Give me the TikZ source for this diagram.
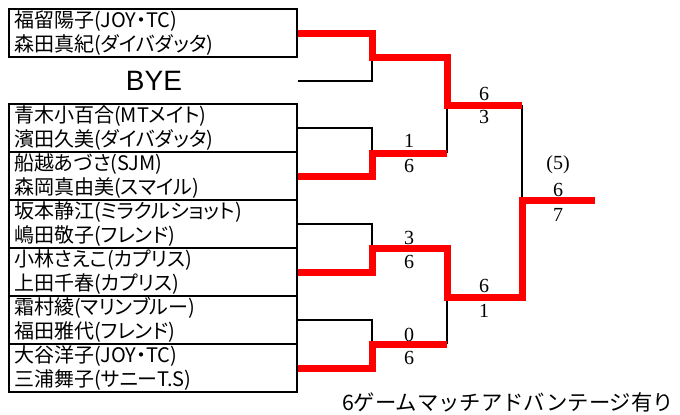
\documentclass[tikz,border=0pt]{standalone}
\usepackage{fontspec}
\setmainfont{Liberation Serif}
\newfontfamily\jp[RawFeature=+palt]{Noto Sans CJK JP}
\newfontfamily\jpcap{Noto Sans CJK JP}
\newfontfamily\sansf{Liberation Sans}
\begin{document}
\begin{tikzpicture}[x=0.75pt,y=-0.75pt,
  entry/.style={draw, line width=1.5pt, minimum height=36pt, text width=208.5pt,
    inner xsep=3.75pt, inner ysep=0pt, align=left,
    font=\jp\fontsize{15pt}{17.5pt}\selectfont},
  blk/.style={draw=black, line width=1.5pt},
  win/.style={draw=red, line width=5.25pt, line join=miter},
  score/.style={inner sep=0pt, font=\fontsize{15pt}{15pt}\selectfont}]
\useasboundingbox (0,0) rectangle (680,414);
% entries
\node[entry] (b1) at (153,33) {福留陽子(JOY・TC)\\森田真紀(ダイバダッタ)};
\node[font=\sansf\fontsize{21pt}{21pt}\selectfont, inner sep=0pt] (bye) at (154,81) {BYE};
\node[entry] (b2) at (153,128) {青木小百合(MTメイト)\\濱田久美(ダイバダッタ)};
\node[entry] (b3) at (153,176) {船越あづさ(SJM)\\森岡真由美(スマイル)};
\node[entry] (b4) at (153,224) {坂本静江(ミラクルショット)\\嶋田敬子(フレンド)};
\node[entry] (b5) at (153,272) {小林さえこ(カプリス)\\上田千春(カプリス)};
\node[entry] (b6) at (153,320) {霜村綾(マリンブルー)\\福田雅代(フレンド)};
\node[entry] (b7) at (153,368) {大谷洋子(JOY・TC)\\三浦舞子(サニーT.S)};
% junctions
\coordinate (r1a) at (372,57);
\coordinate (r1b) at (372,153);
\coordinate (r1c) at (372,248);
\coordinate (r1d) at (372,344);
\coordinate (r2a) at (447,105);
\coordinate (r2b) at (447,297);
\coordinate (r3) at (522,200);
\coordinate (champ) at (595,200);
% losing lines
\draw[blk] (b1.east |- bye) -| (r1a);
\draw[blk] (b2.east) -| (r1b);
\draw[blk] (b4.east) -| (r1c);
\draw[blk] (b6.east) -| (r1d);
\draw[blk] (r2a) -- (r1b -| r2a);
\draw[blk] (r2b) -- (r1d -| r2b);
\draw[blk] (r2a -| r3) -- (r3);
% winning lines
\draw[win] (b1.east) -| (r1a) -| (r2a) -- (r2a -| r3);
\draw[win] (b3.east) -| (r1b) -- (r1b -| r2a);
\draw[win] (b5.east) -| (r1c) -| (r2b) -| (r3) -- (champ);
\draw[win] (b7.east) -| (r1d) -- (r1d -| r2b);
% scores
\node[score] (s1) at (409,141) {1};
\node[score] (s2) at (409,166) {6};
\node[score] (s3) at (484,94) {6};
\node[score] (s4) at (484,117) {3};
\node[score] (s5) at (409,238) {3};
\node[score] (s6) at (409,262) {6};
\node[score] (s7) at (409,335) {0};
\node[score] (s8) at (409,358) {6};
\node[score] (s9) at (484,286) {6};
\node[score] (s10) at (484,311) {1};
\node[score] (s11) at (558,165) {(5)};
\node[score] (s12) at (558,190) {6};
\node[score] (s13) at (558,215) {7};
% caption
\node[inner sep=0pt, font=\jpcap\fontsize{16pt}{16pt}\selectfont] (cap) at (508,402) {6ゲームマッチアドバンテージ有り};
\end{tikzpicture}
\end{document}
